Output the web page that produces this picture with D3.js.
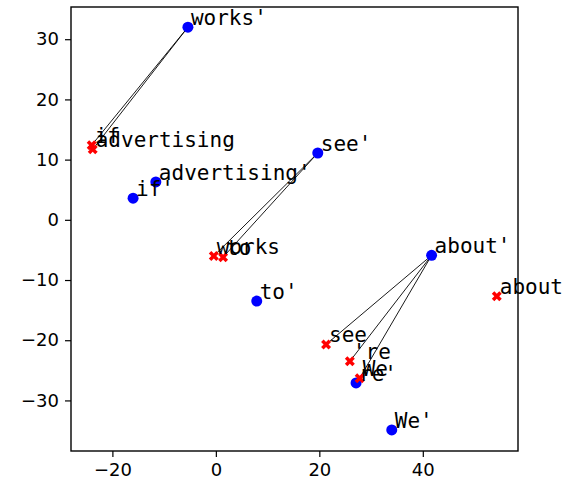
<!DOCTYPE html>
<html>
<head>
<meta charset="utf-8">
<script src="https://cdn.jsdelivr.net/npm/d3@7"></script>
<style>
  html, body { margin: 0; padding: 0; background: #fff; }
  svg { display: block; }
</style>
</head>
<body>
<svg id="chart" width="567" height="494"></svg>
<script>
// Blue points (labels with trailing quote)
const blueLabels = ["works'", "see'", "advertising'", "if'", "about'", "to'", "re'", "We'"];
const blueX = [-5.4, 19.7, -11.6, -16.0, 41.7, 7.9, 27.1, 34.0];
const blueY = [32.0, 11.1, 6.3, 3.6, -5.9, -13.5, -27.1, -34.9];

// Red X points
const redLabels = ["if", "advertising", "works", "to", "about", "see", "'re", "We"];
const redX = [-24.0, -23.8, -0.4, 1.4, 54.3, 21.3, 25.9, 27.8];
const redY = [12.4, 11.7, -6.0, -6.2, -12.7, -20.7, -23.5, -26.3];

// Connections: blue label -> red label
const linkFrom = ["works'", "works'", "see'", "see'", "about'", "about'", "about'"];
const linkTo = ["if", "advertising", "works", "to", "see", "'re", "We"];

const xTicks = [-20, 0, 20, 40];
const yTicks = [-30, -20, -10, 0, 10, 20, 30];
const xDomain = [-28.0, 58.4];
const yDomain = [-38.4, 35.35];

const svg = d3.select("#chart");
const m = {left: 71, right: 518, top: 7, bottom: 451};

const x = d3.scaleLinear().domain(xDomain).range([m.left, m.right]);
const y = d3.scaleLinear().domain(yDomain).range([m.bottom, m.top]);

const blue = blueLabels.map((l, i) => ({label: l, x: blueX[i], y: blueY[i]}));
const red = redLabels.map((l, i) => ({label: l, x: redX[i], y: redY[i]}));
const bMap = new Map(blue.map(d => [d.label, d]));
const rMap = new Map(red.map(d => [d.label, d]));
const links = linkFrom.map((f, i) => ({a: bMap.get(f), b: rMap.get(linkTo[i])}));

// lines
svg.append("g").selectAll("line").data(links).join("line")
  .attr("x1", d => x(d.a.x)).attr("y1", d => y(d.a.y))
  .attr("x2", d => x(d.b.x)).attr("y2", d => y(d.b.y))
  .attr("stroke", "#000").attr("stroke-width", 0.9);

// blue dots
svg.append("g").selectAll("circle").data(blue).join("circle")
  .attr("cx", d => x(d.x)).attr("cy", d => y(d.y)).attr("r", 5.5)
  .attr("fill", "#0000ff");

// red X markers
const xSym = d3.symbol().type(d3.symbolCross).size(62);
svg.append("g").selectAll("path").data(red).join("path")
  .attr("d", xSym)
  .attr("transform", d => `translate(${x(d.x)},${y(d.y)}) rotate(45)`)
  .attr("fill", "#ff0000");

// labels
const labFont = "'DejaVu Sans Mono', monospace";
svg.append("g").selectAll("text").data(blue.concat(red)).join("text")
  .attr("x", d => x(d.x) + 3).attr("y", d => y(d.y) - 2)
  .attr("font-family", labFont).attr("font-size", 21)
  .attr("fill", "#000")
  .text(d => d.label);

// frame
svg.append("rect")
  .attr("x", m.left).attr("y", m.top)
  .attr("width", m.right - m.left).attr("height", m.bottom - m.top)
  .attr("fill", "none").attr("stroke", "#000").attr("stroke-width", 1.4);

// axes
const tickFont = "'DejaVu Sans', sans-serif";
const fmt = d => (d < 0 ? "\u2212" + Math.abs(d) : String(d));
const xAxis = svg.append("g").attr("transform", `translate(0,${m.bottom})`)
  .call(d3.axisBottom(x).tickValues(xTicks).tickFormat(fmt).tickSize(6).tickPadding(6));
const yAxis = svg.append("g").attr("transform", `translate(${m.left},0)`)
  .call(d3.axisLeft(y).tickValues(yTicks).tickFormat(fmt).tickSize(6).tickPadding(6));
[xAxis, yAxis].forEach(g => {
  g.select(".domain").remove();
  g.selectAll(".tick line").attr("stroke", "#000").attr("stroke-width", 1.2);
  g.selectAll(".tick text").attr("font-family", tickFont).attr("font-size", 18).attr("fill", "#000");
});
</script>
</body>
</html>
